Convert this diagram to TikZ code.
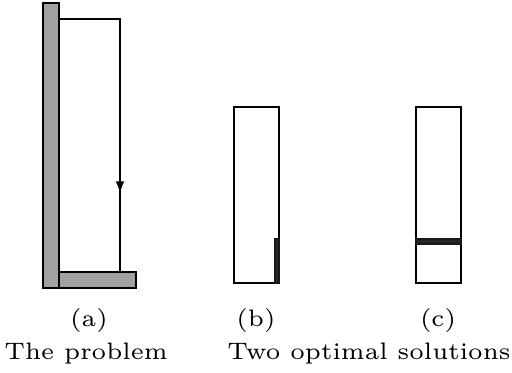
\documentclass[tikz,border=0pt]{standalone}
\tikzset{
    wall/.style={draw=black, fill=black!37},
    box/.style={draw=black},
    block/.style={draw=black!90, fill=black!85},
    caption/.style={font=\fontsize{6.2}{7}\selectfont, inner sep=0pt}
}
\usetikzlibrary{arrows.meta}
\begin{document}
\begin{tikzpicture}[x=0.26pt, y=-0.26pt, line width=0.28pt]
    \useasboundingbox (0,0) rectangle (512,372);
    % The problem: wall, floor and the path
    \draw[wall] (43,3) rectangle (59,288);
    \draw[wall] (59,272) rectangle (136,288);
    \draw[box] (59,19) -- (120,19) -- (120,272);
    \draw[-{Latex[length=3pt,width=2.2pt]}] (120,178) -- (120,193);
    \node[caption] (capa) at (89,321) {(a)};
    \node[caption] (titlea) at (86,354) {The problem};

    % First solution
    \draw[box] (234,107) rectangle (279,283);
    \fill[block] (275,239) rectangle (279,283);
    \node[caption] (capb) at (256,321) {(b)};

    % Second solution
    \draw[box] (416,107) rectangle (461,283);
    \fill[block] (416,239) rectangle (461,244);
    \node[caption] (capc) at (438,321) {(c)};
    \node[caption] (titlebc) at (369,354) {Two optimal solutions};
\end{tikzpicture}
\end{document}
